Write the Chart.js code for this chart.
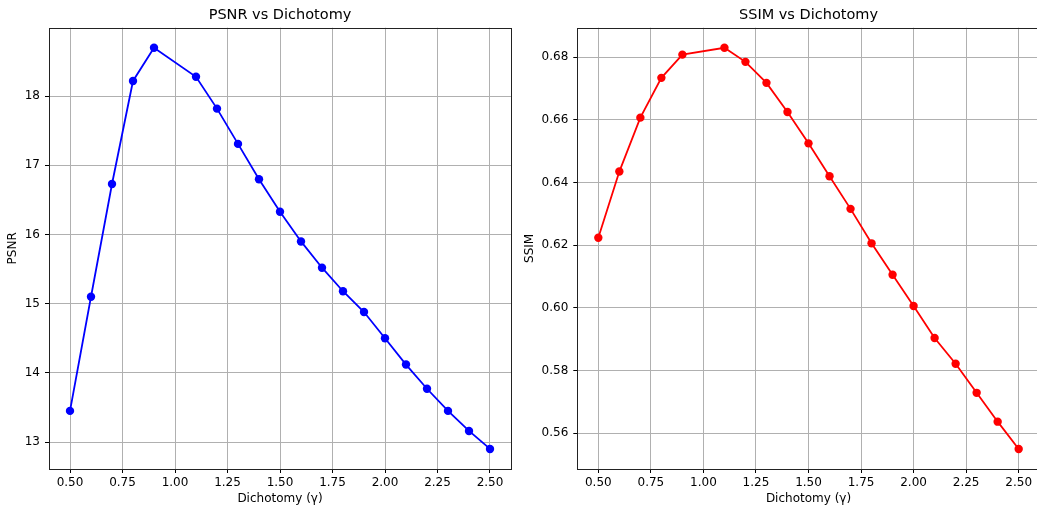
<!DOCTYPE html>
<html>
<head>
<meta charset="utf-8">
<script src="https://cdn.jsdelivr.net/npm/chart.js@4.4.1/dist/chart.umd.min.js"></script>
<style>
  html, body { margin: 0; padding: 0; background: #fff; overflow: hidden; }
  #wrap { position: relative; width: 1037px; height: 512px; overflow: hidden; }
  #psnrChart { position: absolute; left: 0; top: 0; }
  #ssimChart { position: absolute; left: 517px; top: 0; }
</style>
</head>
<body>
<div id="wrap">
  <canvas id="psnrChart" width="517" height="512"></canvas>
  <canvas id="ssimChart" width="540" height="512"></canvas>
</div>
<script>
// Data
const gammaValues = [0.5, 0.6, 0.7, 0.8, 0.9, 1.1, 1.2, 1.3, 1.4, 1.5, 1.6, 1.7, 1.8, 1.9, 2.0, 2.1, 2.2, 2.3, 2.4, 2.5];
const psnrValues = [13.45, 15.10, 16.73, 18.22, 18.70, 18.28, 17.82, 17.31, 16.80, 16.33, 15.90, 15.52, 15.18, 14.88, 14.50, 14.12, 13.77, 13.45, 13.16, 12.90];
const ssimValues = [0.6224, 0.6435, 0.6607, 0.6734, 0.6808, 0.6830, 0.6785, 0.6718, 0.6625, 0.6525, 0.6420, 0.6316, 0.6206, 0.6106, 0.6006, 0.5904, 0.5822, 0.5729, 0.5637, 0.5550];

const xTicks = [0.5, 0.75, 1.0, 1.25, 1.5, 1.75, 2.0, 2.25, 2.5];
const psnrTicks = [13, 14, 15, 16, 17, 18];
const ssimTicks = [0.56, 0.58, 0.60, 0.62, 0.64, 0.66, 0.68];

Chart.defaults.font.family = "'DejaVu Sans', sans-serif";
Chart.defaults.color = "#000";

// draws the box around the plot area like matplotlib spines
const framePlugin = {
  id: "frame",
  afterDraw(chart) {
    const { ctx, chartArea } = chart;
    ctx.save();
    ctx.strokeStyle = "#222";
    ctx.lineWidth = 1;
    ctx.strokeRect(
      Math.round(chartArea.left) + 0.5,
      Math.round(chartArea.top) + 0.5,
      Math.round(chartArea.right - chartArea.left),
      Math.round(chartArea.bottom - chartArea.top)
    );
    ctx.restore();
  },
};

function makeChart(id, title, yLabel, values, color, yTicks, yMin, yMax, yDecimals, yWidth, padRight) {
  const points = gammaValues.map((g, i) => ({ x: g, y: values[i] }));
  return new Chart(document.getElementById(id), {
    type: "line",
    data: {
      datasets: [
        {
          data: points,
          borderColor: color,
          backgroundColor: color,
          borderWidth: 1.8,
          pointRadius: 4.2,
          pointBorderWidth: 0,
          pointBackgroundColor: color,
          tension: 0,
          fill: false,
        },
      ],
    },
    options: {
      responsive: false,
      animation: false,
      devicePixelRatio: 1,
      layout: { padding: { top: 0, left: 0, right: padRight, bottom: 0 } },
      plugins: {
        legend: { display: false },
        tooltip: { enabled: false },
        title: {
          display: true,
          text: title,
          fullSize: false,
          color: "#000",
          font: { size: 14.5, weight: "normal" },
          padding: { top: 7, bottom: 3.3 },
        },
      },
      scales: {
        x: {
          type: "linear",
          min: 0.4,
          max: 2.6,
          afterBuildTicks: (scale) => {
            scale.ticks = xTicks.map((v) => ({ value: v }));
          },
          afterFit: (scale) => {
            scale.height = 43;
          },
          ticks: {
            callback: (v) => Number(v).toFixed(2),
            font: { size: 12 },
            padding: 3,
            maxRotation: 0,
            autoSkip: false,
          },
          grid: { color: "#b0b0b0", lineWidth: 1, tickColor: "#000", tickLength: 4 },
          border: { display: false },
          title: {
            display: true,
            text: "Dichotomy (γ)",
            font: { size: 12 },
            padding: { top: 0, bottom: 5.8 },
          },
        },
        y: {
          type: "linear",
          min: yMin,
          max: yMax,
          afterBuildTicks: (scale) => {
            scale.ticks = yTicks.map((v) => ({ value: v }));
          },
          afterFit: (scale) => {
            scale.width = yWidth;
          },
          ticks: {
            callback: (v) => Number(v).toFixed(yDecimals),
            font: { size: 12 },
            padding: 5,
            autoSkip: false,
          },
          grid: { color: "#b0b0b0", lineWidth: 1, tickColor: "#000", tickLength: 4 },
          border: { display: false },
          title: {
            display: true,
            text: yLabel,
            font: { size: 12 },
            padding: { top: 6, bottom: 0 },
          },
        },
      },
    },
    plugins: [framePlugin],
  });
}

makeChart("psnrChart", "PSNR vs Dichotomy", "PSNR", psnrValues, "#0000ff", psnrTicks, 12.61, 18.99, 0, 49, 6);
makeChart("ssimChart", "SSIM vs Dichotomy", "SSIM", ssimValues, "#ff0000", ssimTicks, 0.5486, 0.6894, 2, 60.3, 17.3);
</script>
</body>
</html>
